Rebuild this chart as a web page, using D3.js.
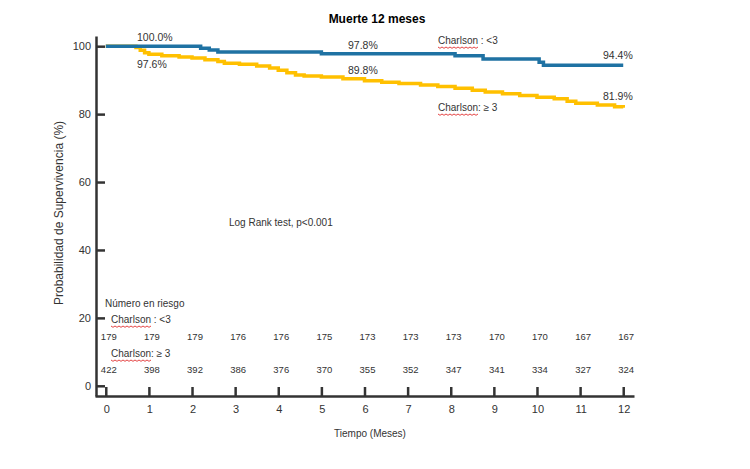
<!DOCTYPE html>
<html>
<head>
<meta charset="utf-8">
<script src="https://cdn.jsdelivr.net/npm/d3@7"></script>
<style>
body { margin: 0; background: #fff; }
text { font-family: Arial, "Liberation Sans", sans-serif; fill: #333; }
</style>
</head>
<body>
<svg width="750" height="469"></svg>
<script>
// curva Charlson < 3 (meses, %)
var bajoT = [0, 2.2, 2.4, 2.6, 5.0, 8.1, 8.75, 10.05, 10.15, 12];
var bajoS = [100, 99.4, 98.9, 98.3, 97.8, 97.2, 96.2, 95.3, 94.4, 94.4];
// curva Charlson >= 3
var altoT = [0, 0.7, 0.8, 0.9, 1.0, 1.3, 1.7, 2.0, 2.3, 2.6, 2.75, 3.1, 3.5, 3.8, 4.0, 4.2, 4.4, 4.6, 5.0, 5.5, 6.0, 6.4, 6.8, 7.3, 7.7, 8.1, 8.5, 8.8, 9.2, 9.6, 10.0, 10.4, 10.7, 10.9, 11.4, 11.8, 12];
var altoS = [100, 99.6, 98.8, 98.1, 97.6, 97.2, 96.8, 96.5, 96.0, 95.5, 95.0, 94.7, 94.2, 93.6, 92.9, 92.2, 91.5, 91.2, 90.9, 90.4, 89.8, 89.4, 89.0, 88.6, 88.1, 87.6, 87.0, 86.5, 86.0, 85.5, 85.0, 84.5, 83.8, 83.2, 82.7, 82.2, 81.9];

var meses = [0, 1, 2, 3, 4, 5, 6, 7, 8, 9, 10, 11, 12];
var yTicks = [0, 20, 40, 60, 80, 100];
var riesgoBajo = [179, 179, 179, 176, 176, 175, 173, 173, 173, 170, 170, 167, 167];
var riesgoAlto = [422, 398, 392, 386, 376, 370, 355, 352, 347, 341, 334, 327, 324];

function main() {
	var svg = d3.select('svg');

	var x = d3.scaleLinear().domain([-0.25, 12.25]).range([95, 634]);
	var y = d3.scaleLinear().domain([-3, 103]).range([396, 36]);

	var line = d3.line()
		.x(function(d){ return x(d[0]); })
		.y(function(d){ return y(d[1]); })
		.curve(d3.curveStepAfter);

	// ejes
	svg.append('g')
		.attr('transform', 'translate(0,396)')
		.call(d3.axisTop(x).tickValues(meses).tickSize(9).tickSizeOuter(0).tickFormat(''));
	svg.append('g')
		.attr('transform', 'translate(96,0)')
		.call(d3.axisRight(y).tickValues(yTicks).tickSize(9).tickSizeOuter(0).tickFormat(''));
	svg.selectAll('.domain, .tick line')
		.attr('stroke', '#333').attr('stroke-width', 2.5);

	yTicks.forEach(function(v){
		svg.append('text').attr('x', 91).attr('y', y(v) + 4)
			.attr('text-anchor', 'end').attr('font-size', 11).text(v);
	});
	meses.forEach(function(m){
		svg.append('text').attr('x', x(m) + 1).attr('y', 413)
			.attr('text-anchor', 'middle').attr('font-size', 11).text(m);
	});

	// curvas
	svg.append('path')
		.attr('d', line(d3.zip(altoT, altoS)))
		.attr('fill', 'none').attr('stroke', '#FFC000').attr('stroke-width', 3.5);
	svg.append('path')
		.attr('d', line(d3.zip(bajoT, bajoS)))
		.attr('fill', 'none').attr('stroke', '#1F72A3').attr('stroke-width', 3.5);

	// textos
	svg.append('text').attr('x', 377).attr('y', 23).attr('text-anchor', 'middle')
		.attr('font-size', 12).attr('font-weight', 'bold').style('fill', '#000').text('Muerte 12 meses');
	svg.append('text').attr('transform', 'translate(63,213) rotate(-90)').attr('text-anchor', 'middle')
		.attr('font-size', 12).text('Probabilidad de Supervivencia (%)');
	svg.append('text').attr('x', 370).attr('y', 437).attr('text-anchor', 'middle')
		.attr('font-size', 10).text('Tiempo (Meses)');
	svg.append('text').attr('x', 229).attr('y', 226).attr('font-size', 10).text('Log Rank test, p<0.001');

	var pct = [
		[137, 41, '100.0%'], [137, 68, '97.6%'], [348, 49, '97.8%'],
		[348, 74, '89.8%'], [603, 59, '94.4%'], [603, 100, '81.9%']
	];
	pct.forEach(function(p){
		svg.append('text').attr('x', p[0]).attr('y', p[1]).attr('font-size', 10.5).text(p[2]);
	});

	function etiqueta(px, py, nombre, resto) {
		var t = svg.append('text').attr('x', px).attr('y', py).attr('font-size', 10);
		t.append('tspan').text(nombre);
		t.append('tspan').text(resto);
		var w = t.select('tspan').node().getComputedTextLength();
		var pts = [];
		for (var i = 0; i <= w; i += 2) pts.push([px + i, py + 3 + (i % 4 === 0 ? 0 : 1.3)]);
		svg.append('path').attr('d', d3.line()(pts))
			.attr('fill', 'none').attr('stroke', '#e03030').attr('stroke-width', 0.9);
	}
	etiqueta(438, 44, 'Charlson', ' : <3');
	etiqueta(438, 111, 'Charlson', ': \u2265 3');

	// número en riesgo
	svg.append('text').attr('x', 105).attr('y', 307).attr('font-size', 10).text('Número en riesgo');
	etiqueta(111, 323, 'Charlson', ' : <3');
	etiqueta(111, 357, 'Charlson', ': \u2265 3');
	riesgoBajo.forEach(function(n, i){
		svg.append('text').attr('x', x(meses[i]) + 3).attr('y', 340)
			.attr('text-anchor', 'middle').attr('font-size', 9.5).text(n);
	});
	riesgoAlto.forEach(function(n, i){
		svg.append('text').attr('x', x(meses[i]) + 3).attr('y', 373)
			.attr('text-anchor', 'middle').attr('font-size', 9.5).text(n);
	});
}
main();
</script>
</body>
</html>
